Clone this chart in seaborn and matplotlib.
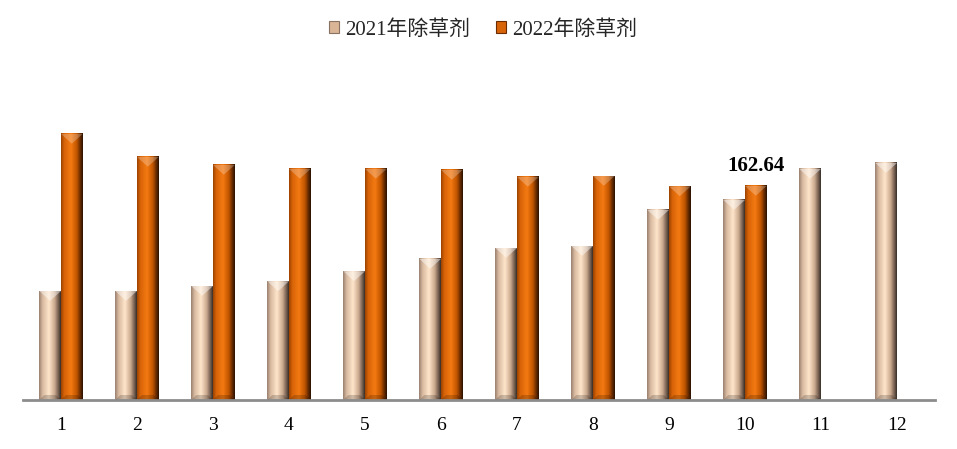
import numpy as np
import pandas as pd
import matplotlib.pyplot as plt
import matplotlib.colors as mcolors
from matplotlib.patches import Polygon, Patch
import seaborn as sns

# 数据
months = [str(i) for i in range(1, 13)]
herb_2021 = [82.8, 82.8, 86.6, 90.2, 97.8, 107.2, 115.5, 117.0, 144.4, 152.0, 175.6, 180.1]
herb_2022 = [202.2, 184.7, 178.6, 175.6, 175.6, 174.8, 169.5, 170.2, 162.3, 162.64, np.nan, np.nan]
series = ['2021年除草剂', '2022年除草剂']
label_month = '10'

df = pd.DataFrame({
    'month': months * 2,
    'value': herb_2021 + herb_2022,
    'series': [series[0]] * 12 + [series[1]] * 12,
})

# 渐变色（模拟 Excel 的棱台效果）
grad_2021 = mcolors.LinearSegmentedColormap.from_list('g21', [
    (0.0, '#9a8070'), (0.15, '#d6b89e'), (0.45, '#ffe6cb'),
    (0.72, '#caa98e'), (0.88, '#7a6354'), (1.0, '#3a302a')])
grad_2022 = mcolors.LinearSegmentedColormap.from_list('g22', [
    (0.0, '#9c4200'), (0.15, '#d86408'), (0.45, '#f47a12'),
    (0.72, '#c25600'), (0.88, '#6a2c00'), (1.0, '#2a1200')])
cmaps = [grad_2021, grad_2022]
top_alpha = [0.45, 0.25]
palette = {series[0]: '#f2d2b4', series[1]: '#e46c0a'}

sns.set_style('white')
plt.rcParams['font.family'] = ['Liberation Serif', 'Noto Sans CJK SC']

fig = plt.figure(figsize=(9.57, 4.49), dpi=100)
ax = fig.add_axes([23 / 957, 49 / 449, 912 / 957, 329 / 449])

sns.barplot(data=df, x='month', y='value', hue='series', order=months,
            hue_order=series, palette=palette, width=0.57, saturation=1,
            errorbar=None, legend=False, ax=ax)

ax.set_xlim(-0.5, 11.5)
ax.set_ylim(0, 250)

# 像素 -> 数据单位
px_x = (ax.get_xlim()[1] - ax.get_xlim()[0]) / ax.bbox.width
px_y = (ax.get_ylim()[1] - ax.get_ylim()[0]) / ax.bbox.height

grad = np.linspace(0, 1, 64).reshape(1, -1)
for cont, cm, ta in zip(ax.containers, cmaps, top_alpha):
    for p in cont.patches:
        h = p.get_height()
        if not np.isfinite(h) or h <= 0:
            continue
        x0, w = p.get_x(), p.get_width()
        p.set_alpha(0)
        ax.imshow(grad, extent=[x0, x0 + w, 0, h], aspect='auto', cmap=cm,
                  interpolation='bilinear', zorder=3)
        # 顶部三角形高光
        depth = (w / px_x) * 0.45 * px_y
        ax.add_patch(Polygon([(x0, h), (x0 + w, h), (x0 + w / 2, h - depth)],
                             closed=True, facecolor='white', alpha=ta,
                             edgecolor='none', zorder=4))
        # 底部暗边
        bx, by = 5 * px_x, 5 * px_y
        ax.add_patch(Polygon([(x0, 0), (x0 + w, 0), (x0 + w - bx, by), (x0 + bx, by)],
                             closed=True, facecolor='black', alpha=0.18,
                             edgecolor='none', zorder=4))

ax.set_xlim(-0.5, 11.5)
ax.set_ylim(0, 250)

# 数据标签（仅 2022 年 10 月）
cont22 = ax.containers[1]
vals22 = [v for v in herb_2022 if np.isfinite(v)]
labels = [f'{v:.2f}' if m == label_month else '' for m, v in zip(months, vals22)]
ax.bar_label(cont22, labels=labels, padding=7, fontsize=15, fontweight='bold',
             color='black', zorder=6)

for s in ['top', 'right', 'left']:
    ax.spines[s].set_visible(False)
ax.spines['bottom'].set_color('#8c8c8c')
ax.spines['bottom'].set_linewidth(2)
ax.spines['bottom'].set_zorder(5)

ax.set_yticks([])
ax.set_xlabel('')
ax.set_ylabel('')
ax.tick_params(axis='x', length=0, pad=12, labelsize=14, colors='black')

handles = [Patch(facecolor='#d9b596', edgecolor='#8a7262', linewidth=0.8),
           Patch(facecolor='#d8640a', edgecolor='#6a2c00', linewidth=0.8)]
fig.legend(handles, series, loc='center', bbox_to_anchor=(483 / 957, 1 - 30 / 449),
           ncol=2, frameon=False, fontsize=15, handlelength=0.5, handleheight=0.5,
           handletextpad=0.3, columnspacing=1.2)

fig.savefig('out.png', dpi=100)
